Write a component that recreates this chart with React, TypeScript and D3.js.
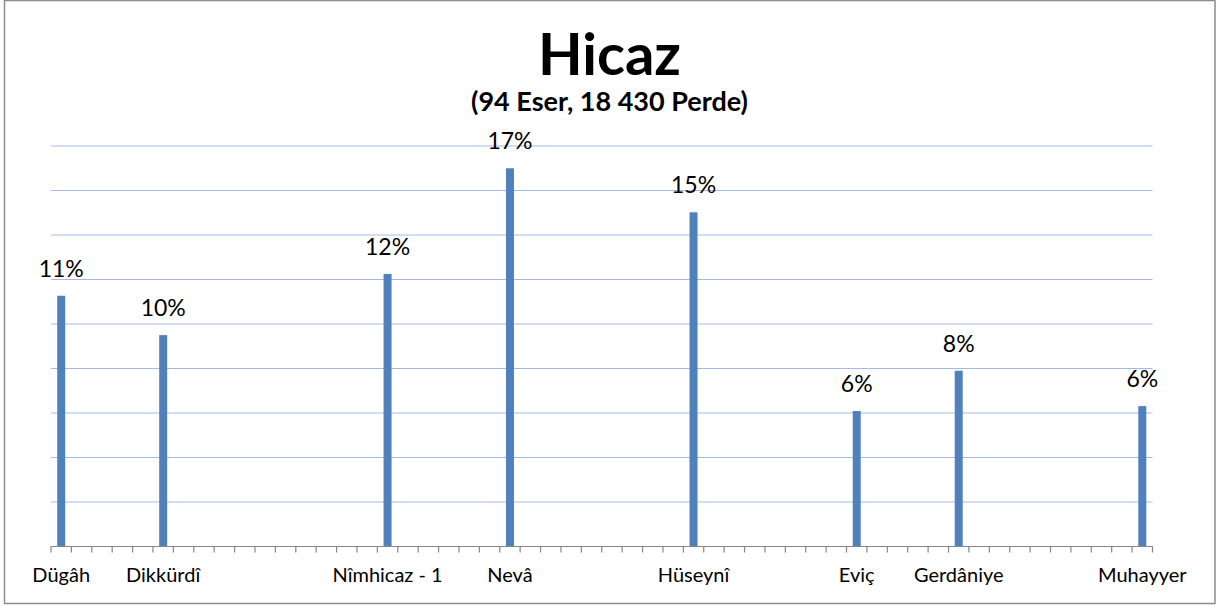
import React from 'react';
import * as d3 from 'd3';

// 54 perde slots on the x axis, only some of them carry a label and a bar
const SLOT_COUNT = 54;
const perdeNames = ['Dügâh', 'Dikkürdî', 'Nîmhicaz - 1', 'Nevâ', 'Hüseynî', 'Eviç', 'Gerdâniye', 'Muhayyer'];
const perdeSlots = [0, 5, 16, 22, 31, 39, 44, 53];
const perdePercent = [11.27, 9.5, 12.25, 17.0, 15.02, 6.09, 7.9, 6.31];
const yTicks = [0, 2, 4, 6, 8, 10, 12, 14, 16, 18];

const TITLE = 'Hicaz';
const SUBTITLE = '(94 Eser, 18 430 Perde)';

const WIDTH = 1219;
const HEIGHT = 608;
const LEFT = 51;
const RIGHT = 1152.5;
const TOP = 146;
const BOTTOM = 546.5;
const BAR_WIDTH = 8;
const FONT = 'Lato, Carlito, Calibri, sans-serif';

const App = () => {
  const xScale = d3.scaleBand<number>()
    .domain(d3.range(SLOT_COUNT))
    .range([LEFT, RIGHT]);
  const yScale = d3.scaleLinear()
    .domain([0, d3.max(yTicks) as number])
    .range([BOTTOM, TOP]);

  const center = (slot: number) => (xScale(slot) as number) + xScale.bandwidth() / 2;
  const tickXs = [...d3.range(SLOT_COUNT).map(i => xScale(i) as number), RIGHT];

  return (
    <svg
      width={WIDTH}
      height={HEIGHT}
      style={{ position: 'absolute', left: 0, top: 0, background: '#fff' }}
      fontFamily={FONT}
    >
      <rect x={4.5} y={0.5} width={1210.5} height={603} fill="#fff" stroke="#8c8c8c" strokeWidth={1.5} />

      <text x={WIDTH / 2} y={75} textAnchor="middle" fontSize={58} fontWeight="bold">{TITLE}</text>
      <text x={WIDTH / 2} y={111} textAnchor="middle" fontSize={27} fontWeight="bold">{SUBTITLE}</text>

      {/* gridlines */}
      {yTicks.filter(t => t > 0).map(t => (
        <line
          key={t}
          x1={LEFT}
          x2={RIGHT}
          y1={yScale(t)}
          y2={yScale(t)}
          stroke="#a3bbe3"
          strokeWidth={1.2}
        />
      ))}

      {/* bars */}
      {perdeSlots.map((slot, i) => (
        <rect
          key={slot}
          x={center(slot) - BAR_WIDTH / 2}
          y={yScale(perdePercent[i])}
          width={BAR_WIDTH}
          height={BOTTOM - yScale(perdePercent[i])}
          fill="#4f81bd"
        />
      ))}

      {/* data labels */}
      {perdeSlots.map((slot, i) => (
        <text
          key={slot}
          x={center(slot)}
          y={yScale(perdePercent[i]) - 19}
          textAnchor="middle"
          fontSize={23}
          fill="#000"
        >
          {`${Math.round(perdePercent[i])}%`}
        </text>
      ))}

      {/* category axis */}
      <line x1={LEFT} x2={RIGHT} y1={BOTTOM} y2={BOTTOM} stroke="#868686" strokeWidth={1.2} />
      {tickXs.map((x, i) => (
        <line key={i} x1={x} x2={x} y1={BOTTOM} y2={BOTTOM + 6} stroke="#868686" strokeWidth={1.2} />
      ))}
      {perdeSlots.map((slot, i) => (
        <text
          key={slot}
          x={center(slot)}
          y={582}
          textAnchor="middle"
          fontSize={20}
          fill="#000"
        >
          {perdeNames[i]}
        </text>
      ))}
    </svg>
  );
};

export default App;
